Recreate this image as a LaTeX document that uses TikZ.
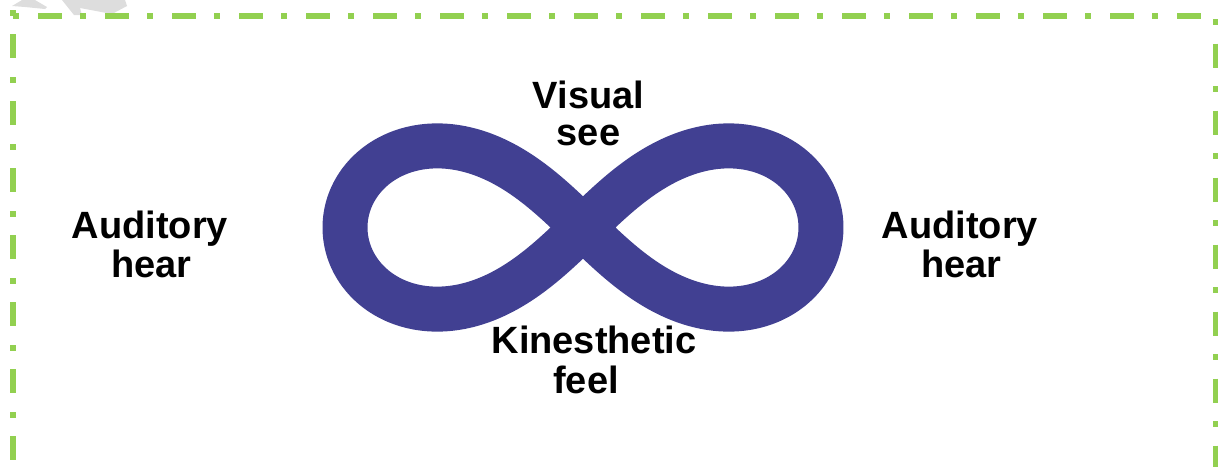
\documentclass[tikz,border=0pt]{standalone}
\usepackage{fontspec}
\setmainfont{Liberation Sans}
\definecolor{bordergreen}{RGB}{146,208,80}
\definecolor{infblue}{RGB}{65,64,146}
\definecolor{wmgray}{RGB}{221,221,221}
\begin{document}
\begin{tikzpicture}[x=1pt,y=-1pt,
  frame/.style={draw=bordergreen,line width=5.6pt,line cap=butt},
  label/.style={anchor=base,inner sep=0pt,font=\fontsize{38}{40}\selectfont\bfseries,text=black}]
\useasboundingbox (0,0) rectangle (1218,466);
% faint watermark fragments
\fill[wmgray] (12,6) -- (22,0) -- (35,0) -- (47,7) -- (45,9) -- (25,7) -- cycle;
\fill[wmgray] (62,0) -- (74,15) -- (82,15) -- (80,8) -- (112,14) -- (127,6) -- (125,0) -- cycle;
% dash-dot frame
\draw[frame,dash pattern=on 6pt off 19pt on 24pt off 18pt] (13,16) -- (1218,16);
\draw[frame,dash pattern=on 6pt off 18pt on 24pt off 19pt] (13,10) -- (13,470);
\draw[frame,dash pattern=on 5.5pt off 19pt on 24pt off 18.5pt] (1215.5,19) -- (1215.5,470);
% infinity
\draw[infblue,line width=45pt,line join=round]
  plot[domain=0:360,samples=241,smooth cycle,variable=\t]
  ({583+238*cos(\t)/(1+sin(\t)^2)},{227.5+0.97*238*sin(\t)*cos(\t)/(1+sin(\t)^2)});
% labels
\node[label] (audLa) at (150,238) {Auditory};
\node[label] (audLb) at (151.5,277) {hear};
\node[label] (audRa) at (960,238) {Auditory};
\node[label] (audRb) at (961.5,277) {hear};
\node[label] (visa) at (588.5,108) {Visual};
\node[label] (visb) at (588.5,145) {see};
\node[label] (kina) at (594,353) {Kinesthetic};
\node[label] (kinb) at (586,393) {feel};
\end{tikzpicture}
\end{document}
